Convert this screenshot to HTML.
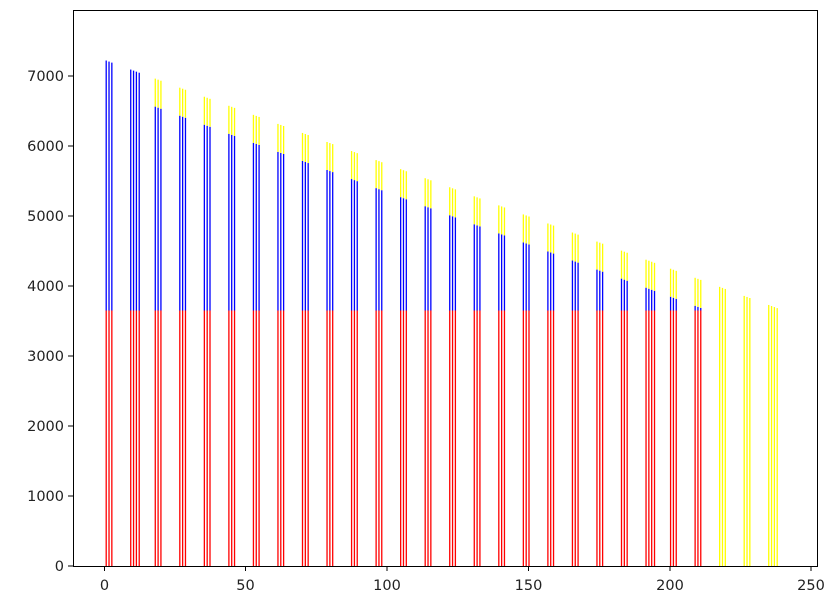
<!DOCTYPE html>
<html><head><meta charset="utf-8"><style>
body{margin:0;background:#fff;}
svg{display:block;font-family:"DejaVu Sans","Liberation Sans",sans-serif;}
</style></head><body>
<svg id="s" width="839" height="604" xmlns="http://www.w3.org/2000/svg">
<rect width="839" height="604" fill="#fff"/>
<g id="bars"></g>
<rect x="73.5" y="10.5" width="744" height="556" fill="none" stroke="#000" stroke-width="1"/>
<g stroke="#000" stroke-width="1">
<line x1="104.5" y1="566" x2="104.5" y2="571"/><line x1="245.5" y1="566" x2="245.5" y2="571"/><line x1="387" y1="566" x2="387" y2="571"/><line x1="528.5" y1="566" x2="528.5" y2="571"/><line x1="670" y1="566" x2="670" y2="571"/><line x1="811" y1="566" x2="811" y2="571"/>
<line x1="68" y1="566" x2="73" y2="566"/><line x1="68" y1="496" x2="73" y2="496"/><line x1="68" y1="426" x2="73" y2="426"/><line x1="68" y1="356" x2="73" y2="356"/><line x1="68" y1="286" x2="73" y2="286"/><line x1="68" y1="216" x2="73" y2="216"/><line x1="68" y1="146" x2="73" y2="146"/><line x1="68" y1="76" x2="73" y2="76"/>
</g>
<g font-size="14.5" fill="#222" text-anchor="middle">
<text x="104.5" y="590">0</text><text x="245.5" y="590">50</text><text x="387" y="590">100</text><text x="528.5" y="590">150</text><text x="670" y="590">200</text><text x="811" y="590">250</text>
</g>
<g font-size="14.5" fill="#222" text-anchor="end">
<text x="64" y="571">0</text><text x="64" y="501">1000</text><text x="64" y="431">2000</text><text x="64" y="361">3000</text><text x="64" y="291">4000</text><text x="64" y="221">5000</text><text x="64" y="151">6000</text><text x="64" y="81">7000</text>
</g>
</svg>
<script>
var g=document.getElementById('bars'),h='';
function X(v){return 104.5+2.827*v;}
function Y(v){return 566-0.07*v;}
function r(x,y0,y1,c){h+='<rect x="'+(x-0.65).toFixed(2)+'" y="'+Y(y1).toFixed(2)+'" width="1.3" height="'+(Y(y0)-Y(y1)).toFixed(2)+'" fill="'+c+'"/>';}
for(var k=0;k<28;k++){
 var n=(k==1||k==22||k==27)?4:3;
 var s=8.68*k+0.6;
 for(var j=0;j<n;j++){
  var x=s+j, t=7230-14.9*x, px=X(x);
  if(k>=25){r(px,0,t,'#ffff00');continue;}
  var b=(k<2)?t:t-400;
  var red=Math.min(3650,b);
  r(px,0,red,'#ff0000');
  if(b>red) r(px,red,b,'#0000ff');
  if(t>b) r(px,b,t,'#ffff00');
 }
}
g.innerHTML=h;
</script>
</body></html>
